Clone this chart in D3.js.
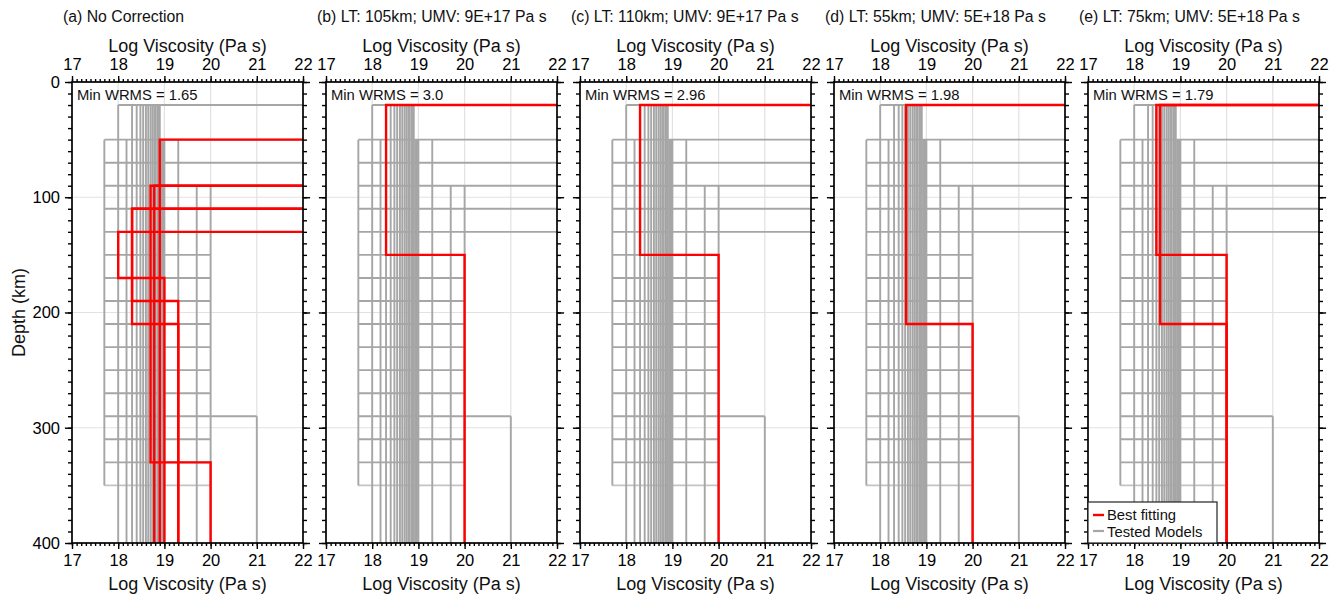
<!DOCTYPE html>
<html>
<head>
<meta charset="utf-8">
<script src="https://cdn.jsdelivr.net/npm/d3@7"></script>
<style>
  body { margin: 0; background: #fff; }
  svg { font-family: "Liberation Sans", Arial, sans-serif; }
</style>
</head>
<body>
<div class="canvas"></div>
<script>
// ---- data ----
var panelTitles = ["(a) No Correction",
                   "(b) LT: 105km; UMV: 9E+17 Pa s",
                   "(c) LT: 110km; UMV: 9E+17 Pa s",
                   "(d) LT: 55km; UMV: 5E+18 Pa s",
                   "(e) LT: 75km; UMV: 5E+18 Pa s"]
var minWrms = ["1.65", "3.0", "2.96", "1.98", "1.79"]
var xTicks = [17, 18, 19, 20, 21, 22]
var yTicks = [0, 100, 200, 300, 400]

// tested models: horizontal pieces [depth, logVisc from, logVisc to]
var testedH = [
  [20, 18.0, 22], [50, 17.7, 22], [70, 17.7, 22], [90, 17.7, 22], [110, 17.7, 22], [130, 17.7, 22],
  [150, 17.7, 20], [170, 17.7, 20], [190, 17.7, 20], [210, 17.7, 20], [230, 17.7, 20],
  [250, 17.7, 20], [270, 17.7, 20], [290, 17.7, 21], [310, 17.7, 20], [330, 17.7, 20]
]
var testedHLight = [[350, 17.7, 20]]
// tested models: vertical pieces [logVisc, depth top, depth bottom]
var testedV = [
  [17.7, 50, 350],
  [18.0, 20, 400], [18.18, 50, 400], [18.3, 20, 400], [18.4, 20, 400], [18.48, 20, 400],
  [18.54, 20, 400], [18.6, 20, 400], [18.65, 20, 400], [18.7, 20, 400], [18.74, 20, 400],
  [18.78, 20, 400], [18.81, 20, 400], [18.85, 20, 400], [18.88, 20, 400], [18.9, 20, 400],
  [18.93, 50, 400], [18.95, 50, 400], [18.98, 50, 400], [19.0, 50, 400],
  [19.3, 50, 400], [19.7, 90, 400], [20.0, 90, 400], [21.0, 290, 400]
]

// best fitting profiles, each a list of layers [logVisc, top, bottom]
var bestA = [
  [[18.9, 50, 400]],
  [[18.7, 90, 330], [20.0, 330, 400]],
  [[18.78, 90, 400]],
  [[18.0, 130, 170], [19.0, 170, 400]],
  [[18.3, 110, 190], [19.3, 190, 400]],
  [[18.3, 110, 210], [19.3, 210, 400]]
]
var bestB = [[[18.3, 20, 150], [20.0, 150, 400]]]
var bestC = [[[18.3, 20, 150], [20.0, 150, 400]]]
var bestD = [[[18.56, 20, 210], [20.0, 210, 400]]]
var bestE = [[[18.48, 20, 150], [20.0, 150, 400]],
             [[18.56, 20, 210], [20.0, 210, 400]]]
var bestAll = [bestA, bestB, bestC, bestD, bestE]

// ---- layout ----
var W = 1336, H = 596
var plotTop = 82, plotH = 461, plotW = 231, left0 = 72, step = 254
var gray = '#a6a6a6', red = '#ff0000'
var fontFam = '"Liberation Sans", Arial, sans-serif'

var svg = d3.select(".canvas").append("svg").attr("width", W).attr("height", H)

var y = d3.scaleLinear().domain([0, 400]).range([plotTop, plotTop + plotH])

panelTitles.forEach(function(title, i) {
  var left = left0 + i * step
  var x = d3.scaleLinear().domain([17, 22]).range([left, left + plotW])
  var g = svg.append('g')

  var clipId = 'clip' + i
  svg.append('clipPath').attr('id', clipId)
    .append('rect').attr('x', left).attr('y', plotTop).attr('width', plotW).attr('height', plotH)

  // grid
  g.selectAll('.gx').data(xTicks.slice(1, -1)).enter().append('line')
    .attr('x1', d => x(d)).attr('x2', d => x(d))
    .attr('y1', plotTop).attr('y2', plotTop + plotH)
    .attr('stroke', '#e2e2e2').attr('stroke-width', 1.2)
  g.selectAll('.gy').data(yTicks.slice(1, -1)).enter().append('line')
    .attr('x1', left - 8).attr('x2', left + plotW + 8)
    .attr('y1', d => y(d)).attr('y2', d => y(d))
    .attr('stroke', '#e2e2e2').attr('stroke-width', 1.2)

  var lines = g.append('g').attr('clip-path', 'url(#' + clipId + ')')

  // tested models
  lines.selectAll('.th').data(testedH).enter().append('line')
    .attr('x1', d => x(d[1])).attr('x2', d => x(d[2]))
    .attr('y1', d => y(d[0])).attr('y2', d => y(d[0]))
    .attr('stroke', gray).attr('stroke-width', 1.9)
  lines.selectAll('.thl').data(testedHLight).enter().append('line')
    .attr('x1', d => x(d[1])).attr('x2', d => x(d[2]))
    .attr('y1', d => y(d[0])).attr('y2', d => y(d[0]))
    .attr('stroke', '#c4c4c4').attr('stroke-width', 1.6)
  lines.selectAll('.tv').data(testedV).enter().append('line')
    .attr('x1', d => x(d[0])).attr('x2', d => x(d[0]))
    .attr('y1', d => y(d[1])).attr('y2', d => y(d[2]))
    .attr('stroke', gray).attr('stroke-width', 1.9)

  // best fitting
  var line = d3.line().x(d => x(d[0])).y(d => y(d[1]))
  bestAll[i].forEach(function(prof) {
    var pts = [[22, prof[0][1]]]
    prof.forEach(function(l) { pts.push([l[0], l[1]]); pts.push([l[0], l[2]]) })
    lines.append('path').attr('d', line(pts))
      .attr('fill', 'none').attr('stroke', red).attr('stroke-width', 2.4)
  })

  // axes
  var minorX = d3.range(170, 221).map(d => d / 10)
  var minorY = d3.range(0, 41).map(d => d * 10)
  function noDomain(sel) { sel.select('.domain').remove(); sel.selectAll('line').attr('stroke-width', 1.4) }

  svg.append('g').attr('transform', 'translate(0,' + plotTop + ')')
    .call(d3.axisTop(x).tickValues(minorX).tickSize(3).tickFormat(''))
    .call(noDomain)
  svg.append('g').attr('transform', 'translate(0,' + (plotTop + plotH) + ')')
    .call(d3.axisBottom(x).tickValues(minorX).tickSize(3).tickFormat(''))
    .call(noDomain)

  var xt = svg.append('g').attr('transform', 'translate(0,' + plotTop + ')')
    .call(d3.axisTop(x).tickValues(xTicks).tickSize(6).tickPadding(6).tickFormat(d3.format('d')))
    .call(noDomain)
  var xb = svg.append('g').attr('transform', 'translate(0,' + (plotTop + plotH) + ')')
    .call(d3.axisBottom(x).tickValues(xTicks).tickSize(6).tickPadding(5).tickFormat(d3.format('d')))
    .call(noDomain)
  ;[xt, xb].forEach(function(a) {
    a.selectAll('text').attr('font-size', 16.5).attr('fill', '#000').attr('font-family', fontFam)
  })

  svg.append('g').attr('transform', 'translate(' + left + ',0)')
    .call(d3.axisLeft(y).tickValues(minorY).tickSize(4).tickFormat(''))
    .call(noDomain)
  svg.append('g').attr('transform', 'translate(' + (left + plotW) + ',0)')
    .call(d3.axisRight(y).tickValues(minorY).tickSize(4).tickFormat(''))
    .call(noDomain)
  var yl = svg.append('g').attr('transform', 'translate(' + left + ',0)')
    .call(d3.axisLeft(y).tickValues(yTicks).tickSize(7).tickPadding(5)
      .tickFormat(i == 0 ? d3.format('d') : ''))
    .call(noDomain)
  yl.selectAll('text').attr('font-size', 16.5).attr('fill', '#000').attr('font-family', fontFam)
  svg.append('g').attr('transform', 'translate(' + (left + plotW) + ',0)')
    .call(d3.axisRight(y).tickValues(yTicks).tickSize(7).tickFormat(''))
    .call(noDomain)

  // frame
  svg.append('rect').attr('x', left).attr('y', plotTop).attr('width', plotW).attr('height', plotH)
    .attr('fill', 'none').attr('stroke', '#000').attr('stroke-width', 1.7)

  // texts
  svg.append('text').attr('x', left - 9).attr('y', 21.5).attr('font-size', 15.8)
    .attr('fill', '#111').text(title)
  svg.append('text').attr('x', left + plotW / 2).attr('y', 51.5).attr('font-size', 18)
    .attr('text-anchor', 'middle').attr('fill', '#111').text('Log Viscosity (Pa s)')
  svg.append('text').attr('x', left + plotW / 2).attr('y', 589.5).attr('font-size', 18)
    .attr('text-anchor', 'middle').attr('fill', '#111').text('Log Viscosity (Pa s)')
  svg.append('text').attr('x', left + 5).attr('y', 100).attr('font-size', 14.8)
    .attr('fill', '#111').text('Min WRMS = ' + minWrms[i])

  // legend in last panel
  if (i == 4) {
    var lg = svg.append('g')
    lg.append('rect').attr('x', left).attr('y', 502).attr('width', 129).attr('height', plotH + plotTop - 502)
      .attr('fill', '#fff').attr('stroke', '#222').attr('stroke-width', 1.2)
    lg.append('line').attr('x1', left + 5).attr('x2', left + 16).attr('y1', 515).attr('y2', 515)
      .attr('stroke', red).attr('stroke-width', 2.4)
    lg.append('line').attr('x1', left + 5).attr('x2', left + 16).attr('y1', 531).attr('y2', 531)
      .attr('stroke', gray).attr('stroke-width', 2.2)
    lg.append('text').attr('x', left + 19).attr('y', 520).attr('font-size', 14.8)
      .attr('fill', '#111').text('Best fitting')
    lg.append('text').attr('x', left + 19).attr('y', 536.5).attr('font-size', 14.8)
      .attr('fill', '#111').text('Tested Models')
  }
})

// shared y label
svg.append('text')
  .attr('transform', 'translate(25,' + (plotTop + plotH / 2) + ') rotate(-90)')
  .attr('text-anchor', 'middle').attr('font-size', 18).attr('fill', '#111')
  .text('Depth (km)')
</script>
</body>
</html>
